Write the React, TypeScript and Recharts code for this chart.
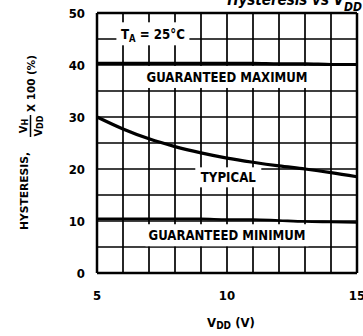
import {
  LineChart, Line, XAxis, YAxis, CartesianGrid,
  ReferenceLine, ReferenceDot, Customized,
} from 'recharts'

// V_DD sweep (V)
const voltage = [5, 6, 7, 8, 9, 10, 11, 12, 13, 14, 15]
// hysteresis, % of V_DD
const typical = [30, 27.7, 25.8, 24.3, 23.1, 22.1, 21.3, 20.6, 20, 19.3, 18.5]
const guaranteedMax = [40.3, 40.3, 40.3, 40.3, 40.3, 40.3, 40.3, 40.2, 40.2, 40.1, 40.1]
const guaranteedMin = [10.4, 10.4, 10.4, 10.4, 10.4, 10.3, 10.3, 10.1, 9.9, 9.8, 9.7]

const xTicks = [5, 6, 7, 8, 9, 10, 11, 12, 13, 14, 15]
const yTicks = [0, 5, 10, 15, 20, 25, 30, 35, 40, 45, 50]

const data = voltage.map((v, i) => ({
  v,
  typ: typical[i],
  max: guaranteedMax[i],
  min: guaranteedMin[i],
}))

const FONT = "'Liberation Sans Narrow', 'DejaVu Sans Condensed', 'Arial Narrow', sans-serif"
const INK = '#000'

interface BoxProps {
  cx?: number
  cy?: number
  w: number
  h: number
  len: number
  children: React.ReactNode
}

// white patch behind an in-plot caption, so the grid is broken around it
const BoxLabel = ({ cx = 0, cy = 0, w, h, len, children }: BoxProps) => (
  <g>
    <rect x={cx - w / 2} y={cy - h / 2} width={w} height={h} fill="#fff" />
    <text
      x={cx}
      y={cy + 5}
      textAnchor="middle"
      fontFamily={FONT}
      fontWeight="bold"
      fontSize={14}
      fill={INK}
      textLength={len}
      lengthAdjust="spacingAndGlyphs"
    >
      {children}
    </text>
  </g>
)

const YTitle = () => (
  <g transform="rotate(-90)" fontFamily={FONT} fontWeight="bold" fill={INK}>
    <text x={-230} y={28} fontSize={11} textLength={78} lengthAdjust="spacingAndGlyphs">
      HYSTERESIS,
    </text>
    <text x={-126} y={27} fontSize={11} textAnchor="middle">
      V<tspan fontSize={9} dy={1}>H</tspan>
    </text>
    <line x1={-137} x2={-115} y1={30.5} y2={30.5} stroke={INK} strokeWidth={1.5} />
    <text x={-126} y={42} fontSize={11} textAnchor="middle">
      V<tspan fontSize={9} dy={1}>DD</tspan>
    </text>
    <text x={-112} y={35} fontSize={11} textLength={57} lengthAdjust="spacingAndGlyphs">
      X 100 (%)
    </text>
  </g>
)

const Overlay = () => (
  <g>
    <YTitle />
    {/* caption of the figure, cropped at the top edge as in the scan */}
    <text
      x={362}
      y={5}
      textAnchor="end"
      fontFamily={FONT}
      fontWeight="bold"
      fontStyle="italic"
      fontSize={15}
      fill={INK}
    >
      Hysteresis vs V<tspan fontSize={12} dy={6}>DD</tspan>
    </text>
    <text x={231} y={327} textAnchor="middle" fontFamily={FONT} fontWeight="bold" fontSize={13} fill={INK}>
      V<tspan fontSize={10} dy={2}>DD</tspan><tspan dy={-2}> (V)</tspan>
    </text>
  </g>
)

const tickStyle = { fill: INK, fontSize: 13, fontWeight: 'bold', fontFamily: FONT }

export default function App() {
  return (
    <div style={{ position: 'absolute', left: 0, top: 0, width: 363, height: 336, background: '#fff' }}>
      <LineChart width={363} height={336} data={data} margin={{ top: 13, right: 6, bottom: 0, left: 0 }}>
        <CartesianGrid stroke={INK} strokeWidth={1.7} strokeOpacity={1} />
        <XAxis
          dataKey="v"
          type="number"
          domain={[5, 15]}
          ticks={xTicks}
          tickFormatter={(v: number) => (v % 5 === 0 ? String(v) : '')}
          axisLine={false}
          tickLine={false}
          tickSize={0}
          tickMargin={18}
          height={63}
          tick={tickStyle}
          interval={0}
        />
        <YAxis
          type="number"
          domain={[0, 50]}
          ticks={yTicks}
          tickFormatter={(v: number) => (v % 10 === 0 ? String(v) : '')}
          axisLine={false}
          tickLine={false}
          tickSize={0}
          tickMargin={12}
          width={97}
          tick={tickStyle}
          interval={0}
        />
        <ReferenceLine x={5} stroke={INK} strokeWidth={2.5} />
        <ReferenceLine x={15} stroke={INK} strokeWidth={2.5} />
        <ReferenceLine y={0} stroke={INK} strokeWidth={2.5} />
        <ReferenceLine y={50} stroke={INK} strokeWidth={2.5} />
        <Line dataKey="max" type="monotone" stroke={INK} strokeWidth={3.2} dot={false} isAnimationActive={false} />
        <Line dataKey="typ" type="monotone" stroke={INK} strokeWidth={3.2} dot={false} isAnimationActive={false} />
        <Line dataKey="min" type="monotone" stroke={INK} strokeWidth={2.6} dot={false} isAnimationActive={false} />
        <ReferenceDot
          x={7.15}
          y={46}
          r={0}
          shape={(p: { cx?: number; cy?: number }) => (
            <BoxLabel cx={p.cx} cy={p.cy} w={73} h={23} len={64}>
              T<tspan fontSize={10} dy={3}>A</tspan><tspan dy={-3}> = 25°C</tspan>
            </BoxLabel>
          )}
        />
        <ReferenceDot
          x={10}
          y={37.7}
          r={0}
          shape={(p: { cx?: number; cy?: number }) => (
            <BoxLabel cx={p.cx} cy={p.cy} w={165} h={22} len={161}>GUARANTEED MAXIMUM</BoxLabel>
          )}
        />
        <ReferenceDot
          x={10.05}
          y={18.4}
          r={0}
          shape={(p: { cx?: number; cy?: number }) => (
            <BoxLabel cx={p.cx} cy={p.cy} w={66} h={20} len={55}>TYPICAL</BoxLabel>
          )}
        />
        <ReferenceDot
          x={10}
          y={7.26}
          r={0}
          shape={(p: { cx?: number; cy?: number }) => (
            <BoxLabel cx={p.cx} cy={p.cy} w={163} h={22} len={157}>GUARANTEED MINIMUM</BoxLabel>
          )}
        />
        <Customized component={Overlay} />
      </LineChart>
    </div>
  )
}
